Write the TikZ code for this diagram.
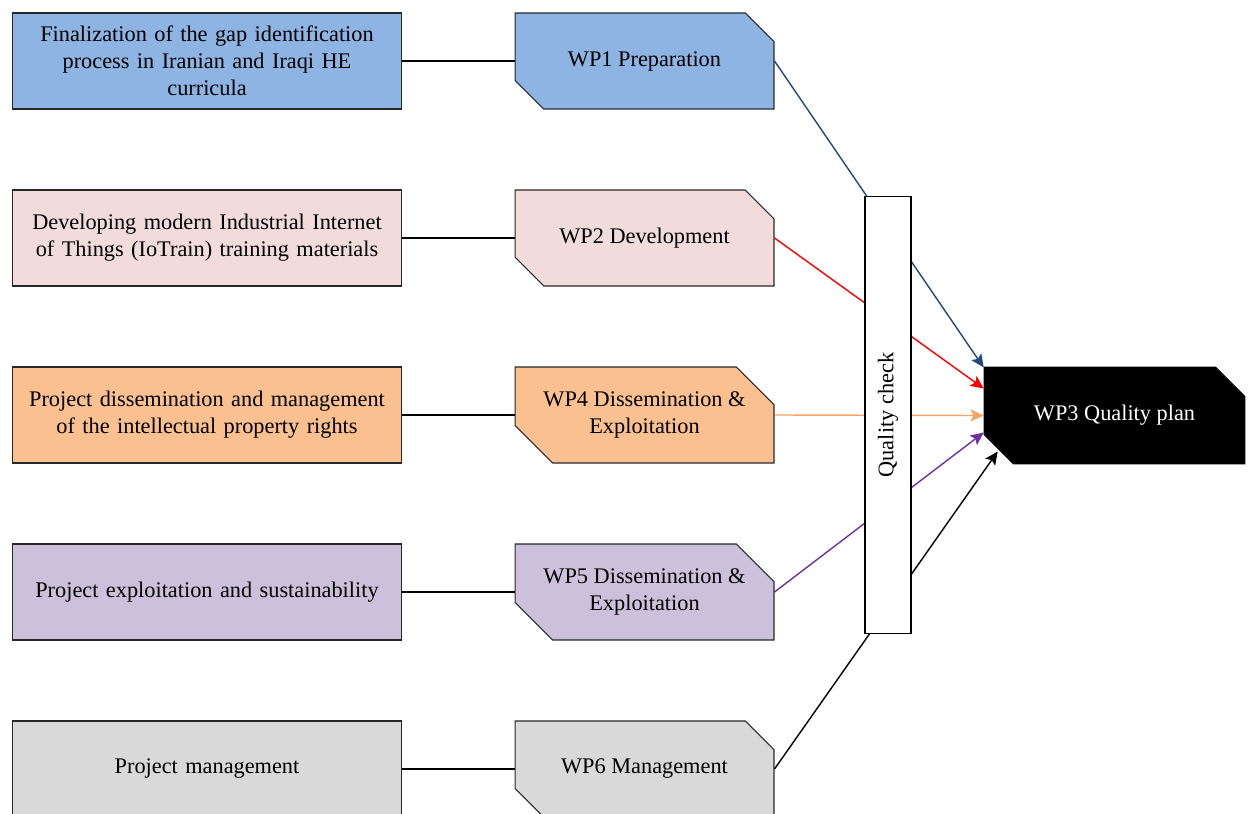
\documentclass[tikz,border=0pt]{standalone}
\usepackage{fontspec}
\setmainfont{Liberation Serif}
\usetikzlibrary{shapes.misc,arrows.meta,backgrounds,calc}
\definecolor{fblue}{RGB}{142,180,227}
\definecolor{fpink}{RGB}{242,220,219}
\definecolor{forange}{RGB}{250,192,144}
\definecolor{fpurple}{RGB}{204,193,218}
\definecolor{fgray}{RGB}{217,217,217}
\definecolor{lblue}{RGB}{31,73,125}
\definecolor{lred}{RGB}{255,0,0}
\definecolor{lorange}{RGB}{247,165,100}
\definecolor{lpurple}{RGB}{112,48,160}
\definecolor{bordercol}{RGB}{40,40,40}
\begin{document}
\begin{tikzpicture}[x=0.02cm,y=-0.02cm,
  font=\fontsize{12.7pt}{15.3pt}\selectfont,
  descbox/.style={draw=bordercol, line width=0.6pt, minimum width=7.8cm, minimum height=1.92cm,
    text width=7.4cm, align=center, inner sep=0pt},
  wpbox/.style={chamfered rectangle, chamfered rectangle corners={north east,south west},
    chamfered rectangle xsep=0.375cm, chamfered rectangle ysep=0.375cm,
    draw=bordercol, line width=0.6pt, minimum width=5.18cm, minimum height=1.92cm,
    align=center, inner sep=0pt},
  link/.style={line width=0.6pt, black},
  flow/.style={line width=0.8pt, -{Stealth[length=7.4pt, width=6.8pt, inset=1.5pt]}}
]
\useasboundingbox (0,0) rectangle (1250,814);

\node[descbox, fill=fblue] (d1) at (207,61) {Finalization of the gap identification\\ process in Iranian and Iraqi HE\\ curricula};
\node[descbox, fill=fpink] (d2) at (207,238) {Developing modern Industrial Internet\\ of Things (IoTrain) training materials};
\node[descbox, fill=forange] (d4) at (207,415) {Project dissemination and management\\ of the intellectual property rights};
\node[descbox, fill=fpurple] (d5) at (207,592) {Project exploitation and sustainability};
\node[descbox, fill=fgray] (d6) at (207,769) {Project management};

\node[wpbox, fill=fblue] (w1) at (644.5,61) {WP1 Preparation};
\node[wpbox, fill=fpink] (w2) at (644.5,238) {WP2 Development};
\node[wpbox, fill=forange] (w4) at (644.5,415) {WP4 Dissemination \&\\ Exploitation};
\node[wpbox, fill=fpurple] (w5) at (644.5,592) {WP5 Dissemination \&\\ Exploitation};
\node[wpbox, fill=fgray] (w6) at (644.5,769) {WP6 Management};

\node[draw=black, fill=white, line width=0.6pt, minimum width=0.92cm, minimum height=8.76cm,
  inner sep=0pt] (qc) at (888,415) {};
\node[rotate=90] (qct) at (qc.center) {Quality check};

\node[chamfered rectangle, chamfered rectangle corners={north east,south west},
  chamfered rectangle xsep=0.385cm, chamfered rectangle ysep=0.385cm,
  draw=black, fill=black, text=white, minimum width=5.22cm, minimum height=1.94cm,
  inner sep=0pt] (w3) at (1114.5,415.5) {WP3 Quality plan};

\begin{pgfonlayer}{background}
\draw[link] (d1.east) -- (w1.west);
\draw[link] (d2.east) -- (w2.west);
\draw[link] (d4.east) -- (w4.west);
\draw[link] (d5.east) -- (w5.west);
\draw[link] (d6.east) -- (w6.west);
\draw[flow, lblue] (w1.east) -- ($(w3.west)+(0,-48)$);
\draw[flow, lred] (w2.east) -- ($(w3.west)+(0,-27)$);
\draw[flow, lorange] (w4.east) -- (w3.west);
\draw[flow, lpurple] (w5.east) -- ($(w3.west)+(0,17)$);
\draw[flow, black] (w6.east) -- ($(w3.west)+(14,36)$);
\end{pgfonlayer}
\end{tikzpicture}
\end{document}
